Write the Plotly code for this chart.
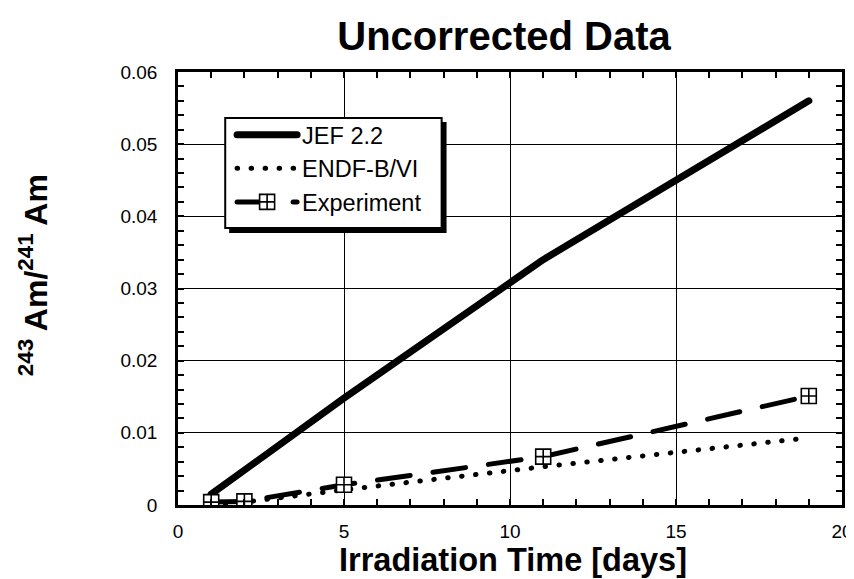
import plotly.graph_objects as go

# Data
days = [1, 2, 5, 11, 19]
jef22 = [0.0015, 0.0049, 0.0148, 0.0340, 0.0560]
endf_b6 = [0.0001, 0.0004, 0.0021, 0.0053, 0.0093]
experiment = [0.0004, 0.0005, 0.0028, 0.0067, 0.0151]

x_ticks = [0, 5, 10, 15, 20]
y_ticks = [0, 0.01, 0.02, 0.03, 0.04, 0.05, 0.06]
y_tick_labels = ["0", "0.01", "0.02", "0.03", "0.04", "0.05", "0.06"]

FONT = "Liberation Sans, Arial, Helvetica, sans-serif"

# plot area in pixels (for converting layout decorations to paper coords)
L, R, T, B = 170, 845, 64, 497
PW, PH = R - L, B - T


def px_x(v):
    return (v - L) / PW


def px_y(v):
    return (B - v) / PH


fig = go.Figure()
fig.add_trace(go.Scatter(x=days, y=jef22, mode="lines", name="JEF 2.2",
                         line=dict(color="black", width=7)))
fig.add_trace(go.Scatter(x=days, y=endf_b6, mode="lines", name="ENDF-B/VI",
                         line=dict(color="black", width=5, dash="0.5px,13.5px")))
fig.add_trace(go.Scatter(x=days, y=experiment, mode="lines+markers", name="Experiment",
                         line=dict(color="black", width=5, dash="33px,23px"),
                         marker=dict(symbol="square-cross", size=15, color="white",
                                     line=dict(color="black", width=1.6))))

axis_common = dict(
    showline=True, linecolor="black", linewidth=2.5, mirror="allticks",
    showgrid=True, gridcolor="black", gridwidth=1.4, zeroline=False,
    ticks="inside", ticklen=6, tickwidth=1.5, tickcolor="black",
    tickfont=dict(family=FONT, size=19, color="black"),
)

fig.update_xaxes(
    range=[0, 20], tickvals=x_ticks, ticktext=[str(v) for v in x_ticks],
    minor=dict(dtick=1, ticks="inside", ticklen=6, tickwidth=1.5, tickcolor="black", showgrid=False),
    ticklabelstandoff=7,
    **axis_common,
)
fig.update_yaxes(
    range=[0, 0.06], tickvals=y_ticks, ticktext=y_tick_labels,
    minor=dict(dtick=0.002, ticks="inside", ticklen=6, tickwidth=1.5, tickcolor="black", showgrid=False),
    title=dict(text="&nbsp;&nbsp;&nbsp;<sup>243</sup> Am/<sup>241</sup> Am", standoff=64,
               font=dict(family=FONT, size=32, color="black", weight="bold")),
    ticklabelstandoff=14,
    **axis_common,
)

fig.update_layout(
    width=854, height=579,
    margin=dict(l=L, r=854 - R, t=T, b=579 - B),
    paper_bgcolor="white", plot_bgcolor="white",
    title=dict(text="Uncorrected Data", x=496/854, xref="container", xanchor="center",
               y=1-27.5/579, yref="container", yanchor="middle",
               font=dict(family=FONT, size=40, color="black", weight="bold")),
    showlegend=True,
    legend=dict(x=px_x(225), y=px_y(105), xanchor="left", yanchor="top",
                bgcolor="rgba(0,0,0,0)", borderwidth=0,
                font=dict(family=FONT, size=23.5, color="black"),
                itemwidth=60, tracegroupgap=0),
    annotations=[
        # x-axis title (as an annotation so it is not clamped to the margin edge)
        dict(text="Irradiation Time [days]", xref="paper", yref="paper",
             x=px_x(511), y=px_y(552), xanchor="center", yanchor="middle",
             showarrow=False, borderpad=0,
             font=dict(family=FONT, size=32.5, color="black", weight="bold")),
    ],
    shapes=[
        # legend drop shadow
        dict(type="rect", xref="paper", yref="paper",
             x0=px_x(222), x1=px_x(443), y0=px_y(225), y1=px_y(114),
             fillcolor="black", line=dict(width=0), layer="above"),
        # legend frame
        dict(type="rect", xref="paper", yref="paper",
             x0=px_x(218), x1=px_x(438), y0=px_y(220), y1=px_y(110),
             fillcolor="white", line=dict(color="black", width=2), layer="above"),
    ],
)

post = """
var gd = document.getElementById('{plot_id}');
function rc(){
  document.querySelectorAll('path.js-line').forEach(function(p){
    p.style.strokeLinecap='round'; p.style.strokeLinejoin='round';
  });
}
rc();
if (gd && gd.on) { gd.on('plotly_afterplot', rc); }
"""

fig.write_html("out.html", post_script=post)
